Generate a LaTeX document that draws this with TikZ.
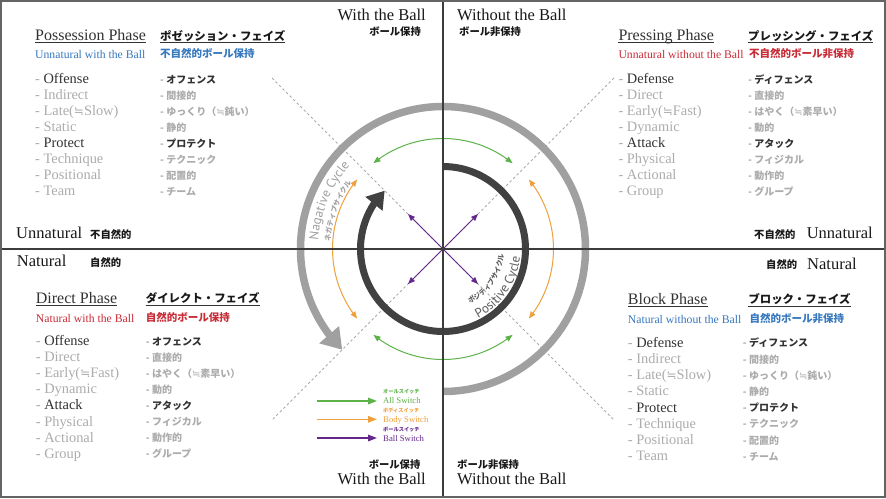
\documentclass[tikz,border=0pt]{standalone}
\usepackage{fontspec}
\setmainfont{Liberation Serif}
\newfontfamily\jp{Noto Sans CJK JP}
\newfontfamily\cyc{PT Sans}
\newfontfamily\symf{DejaVu Sans}
\usetikzlibrary{arrows.meta,bending,decorations.text}
\definecolor{dtext}{RGB}{50,50,50}
\definecolor{ktext}{RGB}{25,25,25}
\definecolor{ltext}{RGB}{172,172,172}
\definecolor{cblue}{RGB}{55,120,190}
\definecolor{cred}{RGB}{200,45,55}
\definecolor{cgreen}{RGB}{92,178,72}
\definecolor{corange}{RGB}{238,160,60}
\definecolor{cpurple}{RGB}{100,40,140}
\definecolor{cgrayarc}{RGB}{160,160,160}
\definecolor{cdark}{RGB}{65,65,65}
\definecolor{cline}{RGB}{60,60,60}
\definecolor{cdash}{RGB}{170,170,170}
\definecolor{cframe}{RGB}{100,100,100}
\newcommand\Dk[1]{\textcolor{ltext}{- }\textcolor{dtext}{#1}}
\newcommand\Lt[1]{\textcolor{ltext}{- #1}}
\newcommand\apx{{\symf\fontsize{12}{12}\selectfont ≒}}
\newcommand\japx{{\symf\mdseries ≒}}
\tikzset{
  txt/.style={inner sep=0pt, anchor=base west},
  txtr/.style={inner sep=0pt, anchor=base east},
  title/.style={txt, font=\fontsize{16}{16}\selectfont, text=dtext},
  jtitle/.style={txt, font=\jp\bfseries\fontsize{11.4}{11.4}\selectfont, text=ktext},
  sub/.style={txt, font=\fontsize{11.7}{11.7}\selectfont},
  jsub/.style={txt, font=\jp\bfseries\fontsize{10.5}{10.5}\selectfont},
  item/.style={txt, font=\fontsize{14.4}{14.4}\selectfont},
  jitem/.style={txt, font=\jp\bfseries\fontsize{10}{10}\selectfont},
  big/.style={font=\fontsize{16.5}{16.5}\selectfont, text=ktext},
  jbig/.style={font=\jp\bfseries\fontsize{10.3}{10.3}\selectfont, text=ktext},
  ul/.style={draw=dtext, line width=0.8pt},
  sw/.style={line width=1pt, {Triangle[length=7pt,width=5.5pt]}-{Triangle[length=7pt,width=5.5pt]}},
  legar/.style={line width=1.5pt, -{Triangle[length=9pt,width=6.5pt]}},
  legt/.style={txt, font=\fontsize{8.7}{8.7}\selectfont},
  legj/.style={txt, font=\jp\bfseries\fontsize{5.2}{5.2}\selectfont},
  dashln/.style={draw=cdash, line width=0.9pt, dash pattern=on 2.5pt off 2.5pt},
  crossln/.style={draw=cline, line width=1.1pt},
}
\begin{document}
\begin{tikzpicture}[x=1pt,y=-1pt]
\useasboundingbox (0,0) rectangle (886,498);
\fill[white] (0,0) rectangle (886,498);

% ---------- circle diagram ----------
\begin{scope}[shift={(443,249)}]
  \draw[dashln] (-171,-171) -- (171,171);
  \draw[dashln] (171,-171) -- (-171,171);
  % negative cycle (outer grey)
  \draw[line width=7.5pt, cgrayarc, -{Triangle[length=20pt,width=25pt]}]
    (90:142.5) arc[start angle=90, end angle=-225, radius=142.5];
  % positive cycle (inner dark)
  \draw[line width=7pt, cdark, -{Triangle[length=17pt,width=21pt]}]
    (-90:82.5) arc[start angle=-90, end angle=225, radius=82.5];
  % all switch
  \draw[sw, cgreen] (-51:110.5) arc[start angle=-51, end angle=-129, radius=110.5];
  \draw[sw, cgreen] (129:110.5) arc[start angle=129, end angle=51, radius=110.5];
  % body switch
  \draw[sw, corange] (39:110.5) arc[start angle=39, end angle=-39, radius=110.5];
  \draw[sw, corange] (-141:110.5) arc[start angle=-141, end angle=-219, radius=110.5];
  % ball switch
  \draw[sw, cpurple] (-35,-35) -- (35,35);
  \draw[sw, cpurple] (35,-35) -- (-35,35);
  % cycle labels
  \path[decorate, decoration={text along path, text color=cgrayarc,
      text={|\cyc\fontsize{13}{13}\selectfont|Nagative Cycle}}]
    (-176:125) arc[start angle=-176, end angle=-115, radius=125];
  \path[decorate, decoration={text along path, text color=cgrayarc,
      text={|\jp\bfseries\fontsize{7}{7}\selectfont|ネガティブサイクル}}]
    (-176:113) arc[start angle=-176, end angle=-115, radius=113];
  \path[decorate, decoration={text along path, text color=cdark!85,
      text={|\cyc\fontsize{13}{13}\selectfont|Positive Cycle}}]
    (63:77.5) arc[start angle=63, end angle=-15, radius=77.5];
  \path[decorate, decoration={text along path, text color=cdark!85,
      text={|\jp\bfseries\fontsize{7}{7}\selectfont|ポジティブサイクル}}]
    (64:61) arc[start angle=64, end angle=-15, radius=61];
\end{scope}

% cross lines
\draw[crossln] (443,0) -- (443,498);
\draw[crossln] (0,249) -- (886,249);

% ---------- top-left : Possession ----------
\node[title] (tlT) at (35,40.7) {Possession Phase};
\node[jtitle] (tlTj) at (160,40) {ポゼッション・フェイズ};
\draw[ul] ([yshift=-2pt]tlT.base west) -- ([yshift=-2pt]tlT.base east);
\draw[ul] ([yshift=-2.5pt]tlTj.base west) -- ([yshift=-2.5pt]tlTj.base east);
\node[sub, text=cblue] (tlS) at (35,58.5) {Unnatural with the Ball};
\node[jsub, text=cblue] (tlSj) at (160,57.5) {不自然的ボール保持};
\foreach \t [count=\i from 0] in {\Dk{Offense},\Lt{Indirect},\Lt{Late(\apx Slow)},\Lt{Static},\Dk{Protect},\Lt{Technique},\Lt{Positional},\Lt{Team}}
  \node[item] (tle\i) at (35,83.5+16*\i) {\t};
\foreach \t [count=\i from 0] in {\Dk{オフェンス},\Lt{間接的},\Lt{ゆっくり（\japx 鈍い）},\Lt{静的},\Dk{プロテクト},\Lt{テクニック},\Lt{配置的},\Lt{チーム}}
  \node[jitem] (tlj\i) at (160,83+16*\i) {\t};

% ---------- top-right : Pressing ----------
\node[title] (trT) at (618.3,40.7) {Pressing Phase};
\node[jtitle] (trTj) at (748,40) {プレッシング・フェイズ};
\draw[ul] ([yshift=-2pt]trT.base west) -- ([yshift=-2pt]trT.base east);
\draw[ul] ([yshift=-2.5pt]trTj.base west) -- ([yshift=-2.5pt]trTj.base east);
\node[sub, text=cred] (trS) at (618.3,58.5) {Unnatural without the Ball};
\node[jsub, text=cred] (trSj) at (749,57.5) {不自然的ボール非保持};
\foreach \t [count=\i from 0] in {\Dk{Defense},\Lt{Direct},\Lt{Early(\apx Fast)},\Lt{Dynamic},\Dk{Attack},\Lt{Physical},\Lt{Actional},\Lt{Group}}
  \node[item] (tre\i) at (618.3,83.5+16*\i) {\t};
\foreach \t [count=\i from 0] in {\Dk{ディフェンス},\Lt{直接的},\Lt{はやく（\japx 素早い）},\Lt{動的},\Dk{アタック},\Lt{フィジカル},\Lt{動作的},\Lt{グループ}}
  \node[jitem] (trj\i) at (748,83+16*\i) {\t};

% ---------- bottom-left : Direct ----------
\node[title] (blT) at (35.7,303) {Direct Phase};
\node[jtitle] (blTj) at (145.7,302.5) {ダイレクト・フェイズ};
\draw[ul] ([yshift=-2pt]blT.base west) -- ([yshift=-2pt]blT.base east);
\draw[ul] ([yshift=-2.5pt]blTj.base west) -- ([yshift=-2.5pt]blTj.base east);
\node[sub, text=cred] (blS) at (35.7,322) {Natural with the Ball};
\node[jsub, text=cred] (blSj) at (145.7,321) {自然的ボール保持};
\foreach \t [count=\i from 0] in {\Dk{Offense},\Lt{Direct},\Lt{Early(\apx Fast)},\Lt{Dynamic},\Dk{Attack},\Lt{Physical},\Lt{Actional},\Lt{Group}}
  \node[item] (ble\i) at (35.7,345.5+16.1*\i) {\t};
\foreach \t [count=\i from 0] in {\Dk{オフェンス},\Lt{直接的},\Lt{はやく（\japx 素早い）},\Lt{動的},\Dk{アタック},\Lt{フィジカル},\Lt{動作的},\Lt{グループ}}
  \node[jitem] (blj\i) at (145.7,345+16.1*\i) {\t};

% ---------- bottom-right : Block ----------
\node[title] (brT) at (627.7,304) {Block Phase};
\node[jtitle] (brTj) at (748.3,303.5) {ブロック・フェイズ};
\draw[ul] ([yshift=-2pt]brT.base west) -- ([yshift=-2pt]brT.base east);
\draw[ul] ([yshift=-2.5pt]brTj.base west) -- ([yshift=-2.5pt]brTj.base east);
\node[sub, text=cblue] (brS) at (627.7,323) {Natural without the Ball};
\node[jsub, text=cblue] (brSj) at (749.3,322) {自然的ボール非保持};
\foreach \t [count=\i from 0] in {\Dk{Defense},\Lt{Indirect},\Lt{Late(\apx Slow)},\Lt{Static},\Dk{Protect},\Lt{Technique},\Lt{Positional},\Lt{Team}}
  \node[item] (bre\i) at (627.7,347.3+16.2*\i) {\t};
\foreach \t [count=\i from 0] in {\Dk{ディフェンス},\Lt{間接的},\Lt{ゆっくり（\japx 鈍い）},\Lt{静的},\Dk{プロテクト},\Lt{テクニック},\Lt{配置的},\Lt{チーム}}
  \node[jitem] (brj\i) at (742.7,346.8+16.2*\i) {\t};

% ---------- axis labels ----------
\node[txtr, big] (wb1) at (426,20.7) {With the Ball};
\node[txtr, jbig] (wb1j) at (421,35.5) {ボール保持};
\node[txt, big] (wob1) at (457,20.7) {Without the Ball};
\node[txt, jbig] (wob1j) at (459,35.5) {ボール非保持};
\node[txtr, jbig] (wb2j) at (420.5,468.5) {ボール保持};
\node[txtr, big] (wb2) at (426,484) {With the Ball};
\node[txt, jbig] (wob2j) at (457,468.5) {ボール非保持};
\node[txt, big] (wob2) at (457,484) {Without the Ball};
\node[txt, big] (un1) at (16,238.7) {Unnatural};
\node[txt, jbig] (un1j) at (90,238) {不自然的};
\node[txtr, big] (un2) at (873,238.7) {Unnatural};
\node[txt, jbig] (un2j) at (754,238) {不自然的};
\node[txt, big] (na1) at (16.7,266.3) {Natural};
\node[txt, jbig] (na1j) at (90,266) {自然的};
\node[txt, big] (na2) at (807,269) {Natural};
\node[txt, jbig] (na2j) at (766,268.5) {自然的};

% ---------- legend ----------
\coordinate (lg1a) at (317,401);
\coordinate (lg1b) at (377,401);
\coordinate (lg2a) at (317,419.3);
\coordinate (lg2b) at (377,419.3);
\coordinate (lg3a) at (317,438);
\coordinate (lg3b) at (377,438);
\draw[legar, cgreen] (lg1a) -- (lg1b);
\draw[legar, corange] (lg2a) -- (lg2b);
\draw[legar, cpurple] (lg3a) -- (lg3b);
\node[legj, text=cgreen] (lg1j) at (383,393.3) {オールスイッチ};
\node[legt, text=cgreen] (lg1t) at (383,403.3) {All Switch};
\node[legj, text=corange] (lg2j) at (383,412.3) {ボディスイッチ};
\node[legt, text=corange] (lg2t) at (383,422.3) {Body Switch};
\node[legj, text=cpurple] (lg3j) at (383,431) {ボールスイッチ};
\node[legt, text=cpurple] (lg3t) at (383,441.3) {Ball Switch};

% frame
\draw[cframe, line width=2.4pt] (1.2,1.2) rectangle (884.8,496.8);
\end{tikzpicture}
\end{document}
